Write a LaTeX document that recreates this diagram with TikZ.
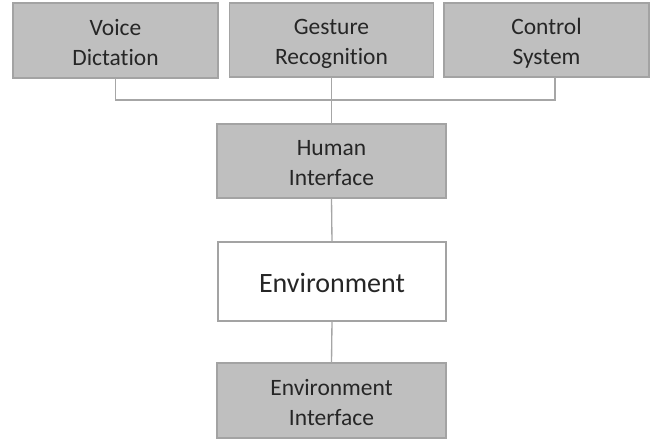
\documentclass[tikz,border=0pt]{standalone}
\usepackage{fontspec}
\setmainfont{Carlito}[Ligatures={TeX,NoCommon}]
\usetikzlibrary{calc}
\definecolor{boxfill}{HTML}{BFBFBF}
\definecolor{boxline}{HTML}{A3A3A3}
\definecolor{conn}{HTML}{A6A6A6}
\newcommand{\mystrut}{\rule[-0.18\baselineskip]{0pt}{\baselineskip}}
\newcommand{\twol}[2]{\mystrut #1\\\mystrut #2}
\begin{document}
\begin{tikzpicture}[x=0.75pt,y=-0.75pt,
  blk/.style={draw=boxline,line width=1.1pt,fill=boxfill,inner sep=0pt,outer sep=0pt,
     align=center,text=black!85,font=\fontsize{17.6}{22.5}\selectfont},
  wblk/.style={blk,fill=white,font=\fontsize{21}{25}\selectfont},
  link/.style={draw=conn,line width=1pt}]
\useasboundingbox (0,0) rectangle (657,440);
\node[blk,minimum width=205*0.75pt,minimum height=75*0.75pt] (voice) at (115.5,40.5) {\twol{Voice}{Dictation}};
\node[blk,minimum width=204*0.75pt,minimum height=74*0.75pt] (gest) at (331.5,40) {\twol{Gesture}{Recognition}};
\node[blk,minimum width=205*0.75pt,minimum height=74*0.75pt] (ctrl) at (546.5,40) {\twol{Control}{System}};
\node[blk,minimum width=229*0.75pt,minimum height=74*0.75pt] (human) at (331.5,161) {\twol{Human}{Interface}};
\node[wblk,minimum width=228*0.75pt,minimum height=79*0.75pt] (env) at (332,281.5) {\mystrut Environment};
\node[blk,minimum width=229*0.75pt,minimum height=75*0.75pt] (envi) at (331.5,400.5) {\twol{Environment}{Interface}};
\coordinate (bus) at (331.5,100);
\coordinate (cx) at (555,0);
\draw[link] (voice.south) -- (voice.south |- bus) -- (cx |- bus) -- (cx |- ctrl.south);
\draw[link] (gest.south) -- (human.north);
\draw[link] (human.south) -- (env.north);
\draw[link] (env.south) -- (envi.north);
\end{tikzpicture}
\end{document}
